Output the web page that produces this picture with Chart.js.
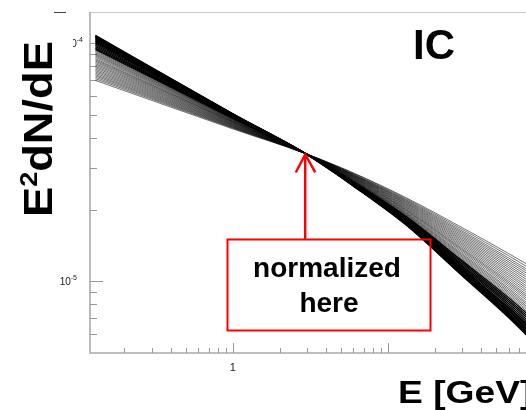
<!DOCTYPE html>
<html><head><meta charset="utf-8">
<script src="https://cdn.jsdelivr.net/npm/chart.js@4.4.0/dist/chart.umd.min.js"></script>
<style>
html,body{margin:0;padding:0;background:#fff;overflow:hidden;}
#wrap{width:526px;height:410px;overflow:hidden;position:relative;background:#fff;}
canvas{display:block;}
</style></head><body>
<div id="wrap"><canvas id="c" width="543" height="410"></canvas></div>
<script>
// Energies (GeV) at which each spectrum was read
const energies = [0.13, 1, 2.93, 6, 13, 30, 60, 100];
// Normalization point
const normE = 2.93;
const normF = 3.44e-5;
// Tick labels
const xTickLabels = [{v: 1, t: '1'}];
const yTickLabels = [{v: 1e-4, base: '10', sup: '-4'}, {v: 1e-5, base: '10', sup: '-5'}];
const xTitle = 'E [GeV]';
const panelLabel = 'IC';
const noteLines = ['normalized', 'here'];

// Soft spectra (dense, black band)
const blackCurves = [
  [1.077e-4, 5.05e-5, 3.44e-5, 2.51e-5, 1.730e-5, 1.057e-5, 7.04e-6, 5.06e-6],
  [1.070e-4, 5.04e-5, 3.44e-5, 2.52e-5, 1.744e-5, 1.072e-5, 7.17e-6, 5.18e-6],
  [1.063e-4, 5.03e-5, 3.44e-5, 2.51e-5, 1.737e-5, 1.064e-5, 7.11e-6, 5.12e-6],
  [1.056e-4, 5.02e-5, 3.44e-5, 2.53e-5, 1.757e-5, 1.087e-5, 7.31e-6, 5.29e-6],
  [1.049e-4, 5.01e-5, 3.44e-5, 2.52e-5, 1.751e-5, 1.079e-5, 7.24e-6, 5.24e-6],
  [1.040e-4, 4.99e-5, 3.44e-5, 2.54e-5, 1.776e-5, 1.107e-5, 7.49e-6, 5.46e-6],
  [1.031e-4, 4.98e-5, 3.44e-5, 2.54e-5, 1.767e-5, 1.097e-5, 7.40e-6, 5.37e-6],
  [1.022e-4, 4.96e-5, 3.44e-5, 2.55e-5, 1.785e-5, 1.118e-5, 7.58e-6, 5.54e-6],
  [1.013e-4, 4.95e-5, 3.44e-5, 2.56e-5, 1.804e-5, 1.138e-5, 7.77e-6, 5.71e-6],
  [1.005e-4, 4.93e-5, 3.44e-5, 2.55e-5, 1.795e-5, 1.128e-5, 7.68e-6, 5.62e-6],
  [9.92e-5, 4.91e-5, 3.44e-5, 2.57e-5, 1.818e-5, 1.155e-5, 7.92e-6, 5.84e-6],
  [9.79e-5, 4.89e-5, 3.44e-5, 2.59e-5, 1.847e-5, 1.187e-5, 8.22e-6, 6.11e-6],
  [9.66e-5, 4.87e-5, 3.44e-5, 2.58e-5, 1.833e-5, 1.171e-5, 8.07e-6, 5.97e-6],
  [9.53e-5, 4.85e-5, 3.44e-5, 2.61e-5, 1.876e-5, 1.221e-5, 8.53e-6, 6.39e-6],
  [9.41e-5, 4.83e-5, 3.44e-5, 2.60e-5, 1.862e-5, 1.204e-5, 8.37e-6, 6.25e-6]
];
// Hard spectra (sparse, grey band)
const grayCurves = [
  [9.31e-5, 4.81e-5, 3.44e-5, 2.64e-5, 1.914e-5, 1.264e-5, 8.94e-6, 6.77e-6],
  [9.21e-5, 4.79e-5, 3.44e-5, 2.64e-5, 1.926e-5, 1.279e-5, 9.07e-6, 6.90e-6],
  [9.11e-5, 4.78e-5, 3.44e-5, 2.62e-5, 1.889e-5, 1.235e-5, 8.67e-6, 6.52e-6],
  [9.01e-5, 4.76e-5, 3.44e-5, 2.63e-5, 1.901e-5, 1.249e-5, 8.80e-6, 6.64e-6],
  [8.92e-5, 4.74e-5, 3.44e-5, 2.67e-5, 1.967e-5, 1.328e-5, 9.54e-6, 7.33e-6],
  [8.82e-5, 4.72e-5, 3.44e-5, 2.66e-5, 1.951e-5, 1.309e-5, 9.36e-6, 7.16e-6],
  [8.71e-5, 4.70e-5, 3.44e-5, 2.65e-5, 1.939e-5, 1.294e-5, 9.22e-6, 7.03e-6],
  [8.59e-5, 4.68e-5, 3.44e-5, 2.70e-5, 2.009e-5, 1.377e-5, 1.002e-5, 7.78e-6],
  [8.50e-5, 4.67e-5, 3.44e-5, 2.69e-5, 1.996e-5, 1.362e-5, 9.87e-6, 7.64e-6],
  [8.40e-5, 4.65e-5, 3.44e-5, 2.68e-5, 1.983e-5, 1.346e-5, 9.71e-6, 7.49e-6],
  [8.30e-5, 4.63e-5, 3.44e-5, 2.73e-5, 2.057e-5, 1.436e-5, 1.060e-5, 8.33e-6],
  [8.19e-5, 4.61e-5, 3.44e-5, 2.74e-5, 2.073e-5, 1.456e-5, 1.079e-5, 8.52e-6],
  [8.09e-5, 4.59e-5, 3.44e-5, 2.71e-5, 2.025e-5, 1.397e-5, 1.021e-5, 7.96e-6],
  [7.98e-5, 4.57e-5, 3.44e-5, 2.72e-5, 2.041e-5, 1.416e-5, 1.040e-5, 8.14e-6],
  [7.88e-5, 4.55e-5, 3.44e-5, 2.75e-5, 2.090e-5, 1.477e-5, 1.100e-5, 8.72e-6],
  [7.77e-5, 4.53e-5, 3.44e-5, 2.76e-5, 2.106e-5, 1.497e-5, 1.120e-5, 8.91e-6],
  [7.67e-5, 4.51e-5, 3.44e-5, 2.79e-5, 2.156e-5, 1.561e-5, 1.185e-5, 9.55e-6],
  [7.57e-5, 4.49e-5, 3.44e-5, 2.80e-5, 2.173e-5, 1.583e-5, 1.207e-5, 9.76e-6],
  [7.47e-5, 4.47e-5, 3.44e-5, 2.77e-5, 2.123e-5, 1.518e-5, 1.142e-5, 9.12e-6],
  [7.37e-5, 4.45e-5, 3.44e-5, 2.78e-5, 2.139e-5, 1.539e-5, 1.163e-5, 9.33e-6],
  [7.28e-5, 4.43e-5, 3.44e-5, 2.81e-5, 2.190e-5, 1.606e-5, 1.230e-5, 9.99e-6],
  [7.18e-5, 4.41e-5, 3.44e-5, 2.82e-5, 2.207e-5, 1.628e-5, 1.252e-5, 1.021e-5],
  [7.08e-5, 4.39e-5, 3.44e-5, 2.84e-5, 2.228e-5, 1.655e-5, 1.280e-5, 1.049e-5],
  [6.97e-5, 4.36e-5, 3.44e-5, 2.85e-5, 2.248e-5, 1.682e-5, 1.308e-5, 1.076e-5]
];

const xMinorTicks = [0.2,0.3,0.4,0.5,0.6,0.7,0.8,0.9,2,3,4,5,6,7,8,9,20,30,40,50,60,70,80,90];
const xMajorTicks = [1, 10];
const yMinorTicks = [6e-6,7e-6,8e-6,9e-6,2e-5,3e-5,4e-5,5e-5,6e-5,7e-5,8e-5,9e-5];
const yMajorTicks = [1e-5, 1e-4];

function mk(vals, w, col) {
  return {
    data: energies.map((e, i) => ({x: e, y: vals[i]})),
    borderColor: col, borderWidth: w, pointRadius: 0,
    cubicInterpolationMode: 'monotone', fill: false
  };
}
const datasets = [
  ...grayCurves.map(v => mk(v, 0.8, 'rgba(0,0,0,0.7)')),
  ...blackCurves.map(v => mk(v, 1.4, '#000'))
];

const FONT = '"Liberation Sans", Arial, Helvetica, sans-serif';

const axesPlugin = {
  id: 'rootAxes',
  beforeDatasetsDraw(chart) {
    const {ctx, chartArea: a, scales: {x, y}} = chart;
    ctx.save();
    ctx.strokeStyle = '#c8c8c8'; ctx.lineWidth = 1.2;
    ctx.beginPath(); ctx.moveTo(a.left, a.top + 0.5); ctx.lineTo(a.right, a.top + 0.5); ctx.stroke();
    ctx.strokeStyle = '#aaaaaa'; ctx.lineWidth = 1.6;
    ctx.beginPath(); ctx.moveTo(a.left, a.top); ctx.lineTo(a.left, a.bottom); ctx.lineTo(a.right, a.bottom); ctx.stroke();
    ctx.lineWidth = 1;
    ctx.strokeStyle = '#999';
    ctx.beginPath();
    xMinorTicks.forEach(v => { const px = Math.round(x.getPixelForValue(v)) + 0.5; ctx.moveTo(px, a.bottom); ctx.lineTo(px, a.bottom - 5); });
    xMajorTicks.forEach(v => { const px = Math.round(x.getPixelForValue(v)) + 0.5; ctx.moveTo(px, a.bottom); ctx.lineTo(px, a.bottom - 10); });
    yMinorTicks.forEach(v => { const py = Math.round(y.getPixelForValue(v)) + 0.5; ctx.moveTo(a.left, py); ctx.lineTo(a.left + 7, py); });
    yMajorTicks.forEach(v => { const py = Math.round(y.getPixelForValue(v)) + 0.5; ctx.moveTo(a.left, py); ctx.lineTo(a.left + 13, py); });
    ctx.stroke();
    ctx.restore();
  },
  afterDraw(chart) {
    const {ctx, chartArea: a, scales: {x, y}} = chart;
    ctx.save();
    ctx.strokeStyle = '#444'; ctx.lineWidth = 1;
    ctx.beginPath(); ctx.moveTo(54, 12.5); ctx.lineTo(66, 12.5); ctx.stroke();

    ctx.fillStyle = '#222';
    ctx.font = '11px ' + FONT;
    ctx.textAlign = 'center'; ctx.textBaseline = 'middle';
    xTickLabels.forEach(l => ctx.fillText(l.t, x.getPixelForValue(l.v), a.bottom + 15));
    yTickLabels.forEach((l, i) => {
      const py = y.getPixelForValue(l.v);
      ctx.save();
      if (i === 0) { ctx.beginPath(); ctx.rect(73, 0, 40, 80); ctx.clip(); }
      const right = i === 0 ? 83 : 77;
      ctx.font = '7px ' + FONT; ctx.textAlign = 'right'; ctx.textBaseline = 'alphabetic';
      const sw = ctx.measureText(l.sup).width;
      ctx.fillText(l.sup, right, py - 1);
      ctx.font = '10px ' + FONT;
      ctx.fillText(l.base, right - sw, py + 4);
      ctx.restore();
    });

    ctx.fillStyle = '#000';
    ctx.textAlign = 'left'; ctx.textBaseline = 'alphabetic';
    ctx.save();
    ctx.translate(398, 403);
    ctx.scale(1.2, 1);
    ctx.font = 'bold 31px ' + FONT;
    ctx.fillText(xTitle, 0, 0);
    ctx.restore();

    ctx.save();
    ctx.translate(52, 217);
    ctx.rotate(-Math.PI / 2);
    ctx.scale(1.13, 1);
    ctx.font = 'bold 40px ' + FONT;
    let cx = 0;
    ctx.fillText('E', cx, 0); cx += ctx.measureText('E').width;
    ctx.font = 'bold 24px ' + FONT;
    ctx.fillText('2', cx, -15); cx += ctx.measureText('2').width;
    ctx.font = 'bold 40px ' + FONT;
    ctx.fillText('dN/dE', cx, 0);
    ctx.restore();

    ctx.font = 'bold 42px ' + FONT;
    ctx.fillText(panelLabel, 413, 59);

    const ax = x.getPixelForValue(normE);
    const ay = y.getPixelForValue(normF);
    ctx.strokeStyle = '#ff0000'; ctx.lineWidth = 2;
    ctx.strokeRect(227.5, 239.5, 203, 91);
    ctx.lineWidth = 2.4; ctx.lineCap = 'butt';
    ctx.beginPath(); ctx.moveTo(ax, 239); ctx.lineTo(ax, ay + 1); ctx.stroke();
    ctx.beginPath(); ctx.moveTo(ax - 9.5, ay + 19); ctx.lineTo(ax, ay + 1); ctx.lineTo(ax + 10, ay + 19); ctx.stroke();
    ctx.fillStyle = '#000';
    ctx.font = 'bold 28px ' + FONT; ctx.textAlign = 'center';
    ctx.fillText(noteLines[0], 327, 277);
    ctx.fillText(noteLines[1], 329, 312);
    ctx.restore();
  }
};

new Chart(document.getElementById('c'), {
  type: 'line',
  data: {datasets},
  options: {
    responsive: false, animation: false, devicePixelRatio: 1,
    layout: {padding: {left: 90, top: 12, right: 0, bottom: 57}},
    plugins: {legend: {display: false}, tooltip: {enabled: false}},
    scales: {
      x: {type: 'logarithmic', min: 0.12, max: 100, display: false},
      y: {type: 'logarithmic', min: 5e-6, max: 1.35e-4, display: false}
    }
  },
  plugins: [axesPlugin]
});
</script>
</body></html>
